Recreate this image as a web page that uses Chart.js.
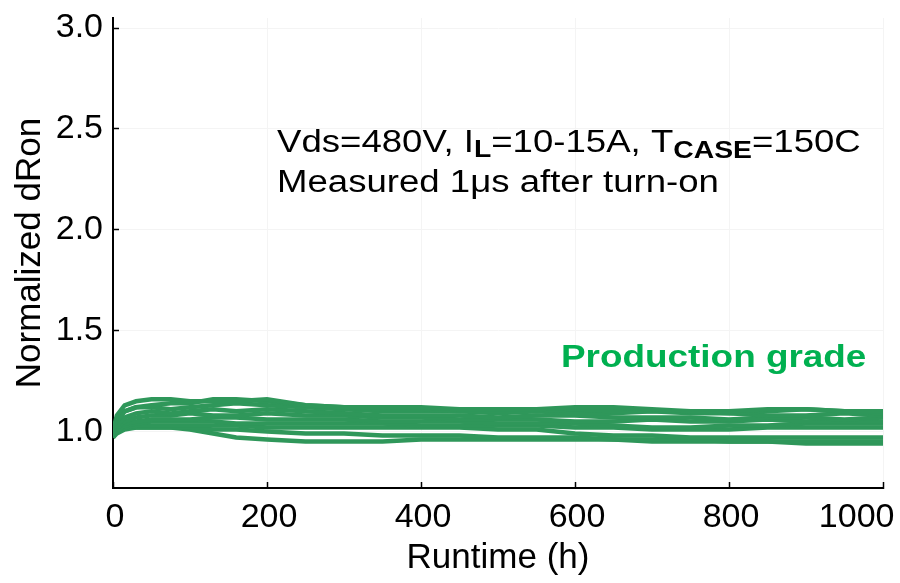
<!DOCTYPE html>
<html>
<head>
<meta charset="utf-8">
<script src="https://cdn.jsdelivr.net/npm/chart.js@4.4.1/dist/chart.umd.min.js"></script>
<style>
  html, body { margin: 0; padding: 0; background: #fff; }
  #wrap { width: 900px; height: 583px; position: relative; }
</style>
</head>
<body>
<div id="wrap"><canvas id="dronChart"></canvas></div>
<script>
// runtime sample points (h)
const runtimeH = [0, 5, 15, 30, 50, 75, 100, 130, 160, 200, 250, 300, 350, 400, 450, 500, 550, 600, 650, 700, 750, 800, 850, 900, 950, 1000];

// normalized dRon per device
const dev1  = [1.00, 1.08, 1.13, 1.15, 1.16, 1.16, 1.15, 1.15, 1.15, 1.16, 1.13, 1.12, 1.12, 1.12, 1.11, 1.11, 1.11, 1.12, 1.12, 1.11, 1.10, 1.10, 1.11, 1.11, 1.10, 1.10];
const dev2  = [0.99, 1.05, 1.10, 1.12, 1.13, 1.14, 1.14, 1.16, 1.16, 1.15, 1.13, 1.12, 1.11, 1.11, 1.10, 1.10, 1.10, 1.11, 1.10, 1.10, 1.10, 1.09, 1.10, 1.11, 1.10, 1.09];
const dev3  = [1.00, 1.06, 1.10, 1.12, 1.12, 1.11, 1.12, 1.13, 1.14, 1.13, 1.12, 1.11, 1.10, 1.10, 1.10, 1.09, 1.10, 1.09, 1.09, 1.10, 1.09, 1.09, 1.08, 1.08, 1.09, 1.08];
const dev4  = [0.98, 1.03, 1.07, 1.09, 1.10, 1.09, 1.10, 1.11, 1.10, 1.11, 1.10, 1.09, 1.08, 1.08, 1.08, 1.07, 1.08, 1.08, 1.07, 1.07, 1.07, 1.06, 1.07, 1.07, 1.06, 1.07];
const dev5  = [0.99, 1.02, 1.05, 1.07, 1.08, 1.08, 1.09, 1.08, 1.08, 1.09, 1.08, 1.08, 1.07, 1.07, 1.06, 1.06, 1.06, 1.05, 1.05, 1.06, 1.05, 1.05, 1.06, 1.05, 1.05, 1.05];
const dev6  = [0.98, 1.02, 1.04, 1.05, 1.06, 1.06, 1.06, 1.07, 1.07, 1.06, 1.06, 1.06, 1.05, 1.05, 1.05, 1.04, 1.04, 1.04, 1.03, 1.02, 1.02, 1.03, 1.03, 1.04, 1.04, 1.04];
const dev7  = [0.98, 1.00, 1.03, 1.04, 1.05, 1.05, 1.05, 1.05, 1.04, 1.04, 1.04, 1.04, 1.04, 1.03, 1.03, 1.03, 1.03, 1.02, 1.02, 1.01, 1.01, 1.01, 1.02, 1.02, 1.02, 1.02];
const dev8  = [0.97, 1.00, 1.02, 1.03, 1.03, 1.03, 1.03, 1.03, 1.03, 1.02, 1.02, 1.02, 1.02, 1.02, 1.02, 1.01, 1.01, 0.99, 0.98, 0.98, 0.97, 0.97, 0.97, 0.97, 0.97, 0.97];
const dev9  = [0.97, 0.99, 1.01, 1.02, 1.02, 1.02, 1.02, 1.01, 1.01, 1.00, 0.99, 0.99, 0.98, 0.98, 0.98, 0.97, 0.97, 0.97, 0.96, 0.96, 0.96, 0.95, 0.95, 0.95, 0.95, 0.95];
const dev10 = [0.98, 1.00, 1.02, 1.02, 1.02, 1.02, 1.01, 0.99, 0.97, 0.96, 0.95, 0.95, 0.95, 0.96, 0.96, 0.96, 0.96, 0.96, 0.96, 0.95, 0.95, 0.95, 0.95, 0.94, 0.94, 0.94];

const xTicks = [0, 200, 400, 600, 800, 1000];
const yTicks = [1.0, 1.5, 2.0, 2.5, 3.0];

const allDevices = [dev1, dev2, dev3, dev4, dev5, dev6, dev7, dev8, dev9, dev10];
const lineGreen = '#2f975a';
const FONT = '"Liberation Sans", Arial, Helvetica, sans-serif';

// text boxes on the plot (drawn a bit wide like the original slide)
const noteText = {
  id: 'noteText',
  afterDraw(chart) {
    const ctx = chart.ctx;
    ctx.save();
    ctx.fillStyle = '#000';
    ctx.textBaseline = 'alphabetic';

    // line 1 with bold subscripts
    ctx.save();
    ctx.translate(277, 152);
    ctx.scale(1.18, 1);
    let x = 0;
    const put = (txt, font, dy) => {
      ctx.font = font;
      ctx.fillText(txt, x, dy);
      x += ctx.measureText(txt).width;
    };
    put('Vds=480V, I', '31px ' + FONT, 0);
    put('L', 'bold 24px ' + FONT, 5);
    put('=10-15A, T', '31px ' + FONT, 0);
    put('CASE', 'bold 24px ' + FONT, 6);
    put('=150C', '31px ' + FONT, 0);
    ctx.restore();

    // line 2
    ctx.save();
    ctx.translate(277, 192);
    ctx.scale(1.18, 1);
    ctx.font = '31px ' + FONT;
    ctx.fillText('Measured 1\u03bcs after turn-on', 0, 0);
    ctx.restore();

    // series label
    ctx.save();
    ctx.translate(561, 367);
    ctx.scale(1.19, 1);
    ctx.fillStyle = '#00b050';
    ctx.font = 'bold 31px ' + FONT;
    ctx.fillText('Production grade', 0, 0);
    ctx.restore();

    ctx.restore();
  }
};

const datasets = allDevices.map((vals, i) => ({
  label: 'dev' + (i + 1),
  data: runtimeH.map((t, k) => ({ x: t, y: vals[k] })),
  borderColor: lineGreen,
  borderWidth: 4.5,
  pointRadius: 0,
  tension: 0,
  fill: false
}));

new Chart(document.getElementById('dronChart'), {
  type: 'line',
  data: { datasets },
  options: {
    responsive: true,
    maintainAspectRatio: false,
    animation: false,
    layout: { padding: { top: 18, right: 17, left: 0, bottom: 0 } },
    plugins: {
      legend: { display: false },
      tooltip: { enabled: false }
    },
    scales: {
      x: {
        type: 'linear',
        min: 0,
        max: 1000,
        afterBuildTicks: s => { s.ticks = xTicks.map(v => ({ value: v })); },
        afterFit: s => { s.height = 95; s.paddingLeft = 0; s.paddingRight = 0; },
        border: { display: true, color: '#000', width: 2 },
        grid: { color: '#f4f4f4', lineWidth: 1, tickLength: -6, tickColor: '#000', tickWidth: 1.5 },
        ticks: {
          color: '#000',
          font: { family: FONT, size: 34 },
          padding: 15,
          labelOffset: 2,
          maxRotation: 0,
          autoSkip: false,
          // keep the last label inside the canvas like the original
          callback: v => v === 1000 ? '1000      ' : String(v)
        },
        title: {
          display: true,
          text: 'Runtime (h)',
          color: '#000',
          font: { family: FONT, size: 35 },
          padding: { top: 0, bottom: 4 }
        }
      },
      y: {
        min: 0.72,
        max: 3.05,
        afterBuildTicks: s => { s.ticks = yTicks.map(v => ({ value: v })); },
        afterFit: s => { s.width = 113; s.paddingTop = 0; s.paddingBottom = 0; },
        border: { display: true, color: '#000', width: 2 },
        grid: { color: '#f4f4f4', lineWidth: 1, tickLength: -6, tickColor: '#000', tickWidth: 1.5 },
        ticks: {
          color: '#000',
          font: { family: FONT, size: 34 },
          padding: 16,
          callback: v => Number(v).toFixed(1)
        },
        title: {
          display: true,
          text: 'Normalized dRon',
          color: '#000',
          font: { family: FONT, size: 35 },
          padding: { top: 9, bottom: 0 }
        }
      }
    }
  },
  plugins: [noteText]
});
</script>
</body>
</html>
